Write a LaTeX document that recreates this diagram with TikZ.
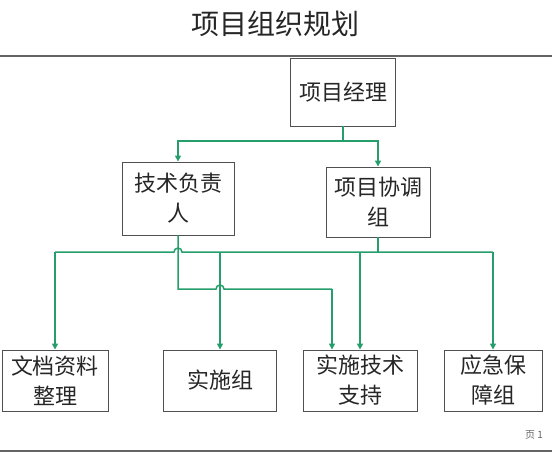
\documentclass[tikz,border=0pt]{standalone}
\usepackage{fontspec}
\setmainfont{Noto Sans CJK SC}
\usetikzlibrary{arrows.meta}
\definecolor{conncol}{RGB}{38,158,108}
\definecolor{boxcol}{RGB}{80,80,80}
\definecolor{rulecol}{RGB}{100,100,100}
\tikzset{
  box/.style={draw=boxcol, line width=0.9pt, inner sep=0pt, align=center,
    font=\fontsize{22}{30}\selectfont, text=black!85},
  conn/.style={draw=conncol, line width=1.5pt},
  arr/.style={conn, -{Triangle[length=6pt,width=6pt]}},
  rulel/.style={draw=rulecol, line width=2.2pt},
}
\begin{document}
\begin{tikzpicture}[x=1pt,y=-1pt]
\useasboundingbox (0,0) rectangle (552,452);
% title and rules
\node[font=\fontsize{28}{30}\selectfont, text=black!85] (title) at (275,24) {项目组织规划};
\coordinate (tl) at (0,56); \coordinate (tr) at (552,56);
\draw[rulel] (tl) -- (tr);
\coordinate (bl) at (0,451); \coordinate (br) at (552,451);
\draw[rulel] (bl) -- (br);
\node[font=\fontsize{10}{11}\selectfont, text=black!60] (page) at (534,435) {页 1};
% boxes
\node[box, minimum width=105pt, minimum height=68pt] (pm) at (343,92) {项目经理};
\node[box, minimum width=112pt, minimum height=73pt] (tech) at (178,198.5) {技术负责\\人};
\node[box, minimum width=104pt, minimum height=70pt] (coord) at (378,202) {项目协调\\组};
\node[box, minimum width=106pt, minimum height=61pt] (doc) at (55,380.5) {文档资料\\整理};
\node[box, minimum width=113pt, minimum height=61pt] (impl) at (220,380.5) {实施组};
\node[box, minimum width=114pt, minimum height=61pt] (sup) at (360,380.5) {实施技术\\支持};
\node[box, minimum width=98pt, minimum height=61pt] (emg) at (493,380.5) {应急保\\障组};
% manager to leads
\coordinate (split) at (343,141);
\draw[conn] (pm.south) -- (split);
\draw[arr] (split) -| (tech.north);
\draw[arr] (split) -| (coord.north);
% bus
\coordinate (busL) at (55,252);
\coordinate (busR) at (493,252);
\draw[conn] (coord.south) -- (coord.south |- busL);
\draw[conn] (busL) -- (174,252) arc[start angle=180, end angle=0, radius=4pt] -- (busR);
\draw[arr] (busL) -- (doc.north);
\draw[arr] (impl.north |- busL) -- (impl.north);
\draw[arr] (sup.north |- busL) -- (sup.north);
\draw[arr] (busR) -- (emg.north);
% technical lead to support
\coordinate (tk) at (178,289);
\coordinate (tsup) at (332,289);
\draw[conn] (tech.south) -- (tk) -- (216,289) arc[start angle=180, end angle=0, radius=4pt] -- (tsup);
\draw[arr] (tsup) -- (tsup |- sup.north);
\end{tikzpicture}
\end{document}
